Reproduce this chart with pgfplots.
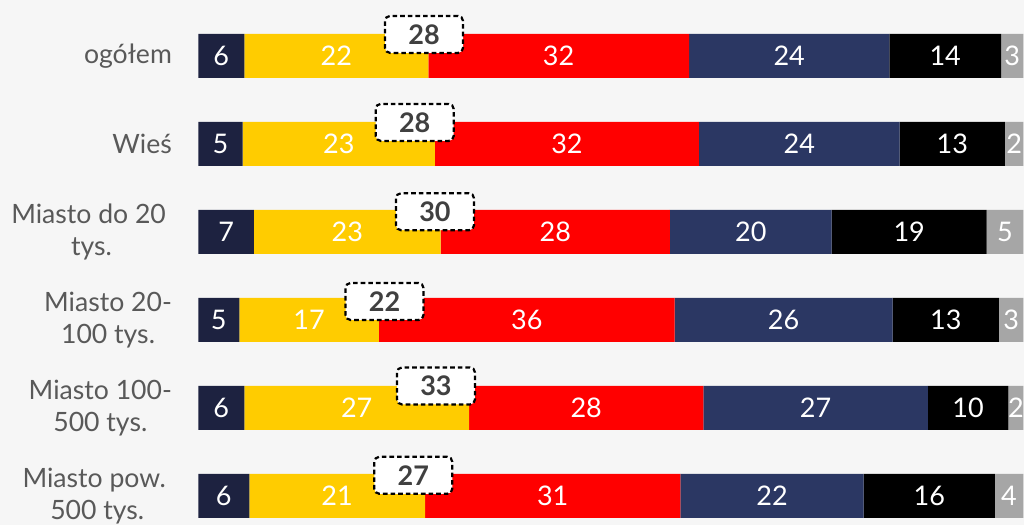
\documentclass[border=0pt]{standalone}
\usepackage{fontspec}
\setmainfont{Lato}
\usepackage{pgfplots}
\pgfplotsset{compat=1.18}
\definecolor{segA}{HTML}{1D2240}
\definecolor{segB}{HTML}{FFCC00}
\definecolor{segC}{HTML}{FF0000}
\definecolor{segD}{HTML}{2B3763}
\definecolor{segE}{HTML}{000000}
\definecolor{segF}{HTML}{A6A6A6}
\definecolor{bg}{HTML}{F6F6F6}
\definecolor{labc}{HTML}{595959}
\definecolor{boxtext}{HTML}{404040}

\begin{document}
\begin{tikzpicture}
% background, 1px = 0.5pt, axis starts 198px from the left
\useasboundingbox (-99.15pt,0pt) rectangle (412.85pt,262.5pt);
\fill[bg] (-99.15pt,0pt) rectangle (412.85pt,262.5pt);

\begin{axis}[
  at={(0pt,0pt)}, anchor=south west,
  scale only axis, width=412.5pt, height=262.5pt,
  xbar stacked, bar width=22pt,
  xmin=0, xmax=100, ymin=-0.636, ymax=5.33, y dir=reverse,
  enlargelimits=false,
  axis line style={draw=none}, major tick length=0pt,
  xtick=\empty, ytick={0,...,5},
  yticklabels={ogółem, Wieś, Miasto do 20\hspace*{3pt}\\tys., Miasto 20-\\100 tys., Miasto 100-\\500 tys., Miasto pow.\hspace*{3pt}\\500 tys.},
  yticklabel style={align=center, text=labc, inner sep=0pt, xshift=-13pt,
    font=\fontsize{13.3}{16}\selectfont},
  nodes near coords, point meta=explicit symbolic,
  every node near coord/.append style={text=white, font=\fontsize{13.5}{15}\selectfont},
  every axis plot/.append style={draw=none},
]
\addplot[fill=segA] coordinates {(5.58,0) [6] (5.38,1) [5] (6.75,2) [7] (4.97,3) [5] (5.58,4) [6] (6.18,5) [6]};
\addplot[fill=segB] coordinates {(22.30,0) [22] (23.31,1) [23] (22.63,2) [23] (16.93,3) [17] (27.24,4) [27] (21.30,5) [21]};
\addplot[fill=segC] coordinates {(31.60,0) [32] (32.00,1) [32] (27.79,2) [28] (35.84,3) [36] (28.40,4) [28] (30.95,5) [31]};
\addplot[fill=segD] coordinates {(24.28,0) [24] (24.33,1) [24] (19.60,2) [20] (26.42,3) [26] (27.20,4) [27] (22.23,5) [22]};
\addplot[fill=segE] coordinates {(13.54,0) [14] (12.76,1) [13] (18.79,2) [19] (12.88,3) [13] (9.77,4) [10] (15.88,5) [16]};
\addplot[fill=segF] coordinates {(2.70,0) [3] (2.22,1) [2] (4.44,2) [5] (2.96,3) [3] (1.81,4) [2] (3.46,5) [4]};
\end{axis}

% dashed boxes with the sum of the first two answers
\begin{axis}[
  at={(0pt,0pt)}, anchor=south west,
  scale only axis, width=412.5pt, height=262.5pt,
  xmin=0, xmax=100, ymin=-0.636, ymax=5.33, y dir=reverse,
  hide axis, clip=false,
  nodes near coords, point meta=explicit symbolic,
  every node near coord/.style={anchor=center, draw=black, fill=white,
    line width=1.1pt, dash pattern=on 2.3pt off 1.5pt, rounded corners=2.5pt,
    minimum width=39pt, minimum height=18.5pt, inner sep=0pt,
    text=boxtext, font=\fontsize{13.5}{15}\selectfont\bfseries},
]
\addplot[draw=none, mark=none] coordinates {(27.36,-0.245) [28] (26.23,0.755) [28] (28.69,1.77) [30] (22.57,2.79) [22] (28.81,3.75) [33] (26.06,4.765) [27]};
\end{axis}
\end{tikzpicture}
\end{document}
